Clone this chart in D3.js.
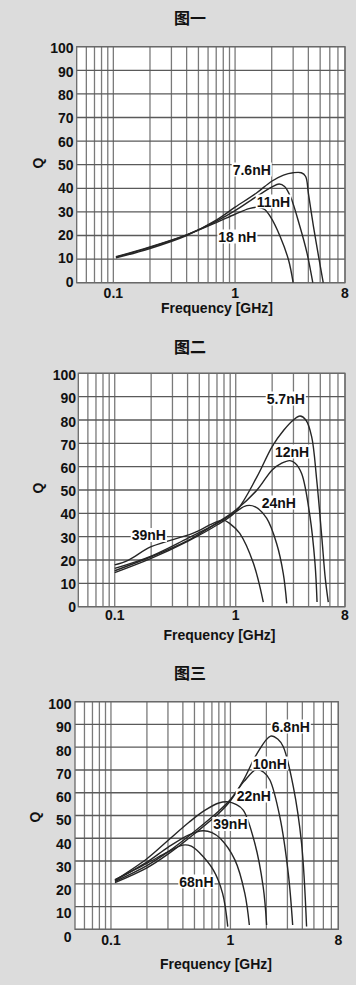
<!DOCTYPE html>
<html><head><meta charset="utf-8">
<script src="https://cdn.jsdelivr.net/npm/d3@7/dist/d3.min.js"></script>
<style>
html,body{margin:0;padding:0;background:#dcdcdc;}
svg{display:block;}
</style></head>
<body>
<svg id="c" width="356" height="985"></svg>
<script>
// ---------- data ----------
const titles = ["图一", "图二", "图三"];
const yTicks = [0, 10, 20, 30, 40, 50, 60, 70, 80, 90, 100];
const xTickLabels = [0.1, 1, 8];
const xGridValues = [0.06, 0.07, 0.08, 0.09, 0.1, 0.2, 0.3, 0.4, 0.5, 0.6, 0.7, 0.8, 0.9, 1, 2, 3, 4, 5, 6, 7, 8];
const xLabelText = "Frequency [GHz]";
const yLabelText = "Q";

// 图一
const p1Names = ["7.6nH", "11nH", "18 nH"];
const p1_7_6nH = [[0.105,10.5],[0.2,14.5],[0.4,20],[0.7,26.5],[1,32],[1.5,38],[2,43],[2.5,45.6],[3,46.6],[3.5,46.6],[3.8,45],[4.0,38],[4.4,24],[4.8,12.5],[5.3,0]];
const p1_11nH  = [[0.105,10.8],[0.2,15],[0.4,20.3],[0.7,26],[1,30.5],[1.5,36.5],[2,40.5],[2.3,41.8],[2.55,40.8],[2.85,36.5],[3.4,24],[3.9,12.5],[4.35,0]];
const p1_18nH  = [[0.105,11],[0.2,15.2],[0.4,20.3],[0.7,25.5],[1,29],[1.3,31.4],[1.55,32],[1.75,31],[1.95,28],[2.35,19.5],[2.75,9.6],[3.0,0]];

// 图二
const p2Names = ["5.7nH", "12nH", "24nH", "39nH"];
const p2_5_7nH = [[0.1,14.6],[0.2,20.7],[0.4,28],[0.7,35],[1,40.7],[1.5,55.7],[2,68.6],[2.5,75.7],[3,80],[3.4,81.7],[3.8,80],[4.24,72.9],[4.67,54.3],[5.14,30],[5.5,12],[5.82,2]];
const p2_12nH  = [[0.1,15.4],[0.2,21.4],[0.4,28.3],[0.8,37.9],[1,41.4],[1.5,50],[2,58.6],[2.4,61.5],[2.8,62.6],[3.1,61.5],[3.51,57],[4.11,38.6],[4.52,18.6],[4.7,2]];
const p2_24nH  = [[0.1,16.4],[0.2,21.7],[0.4,29.3],[0.7,35.7],[1,40.7],[1.23,43.3],[1.45,42.8],[1.8,37.9],[2.18,27],[2.47,14.3],[2.64,1.4]];
const p2_39nH  = [[0.1,17.9],[0.13,20],[0.2,25.7],[0.44,31.4],[0.65,35.7],[0.79,37.1],[0.9,35.5],[1.08,31.4],[1.4,18.6],[1.69,2]];

// 图三
const p3Names = ["6.8nH", "10nH", "22nH", "39nH", "68nH"];
const p3_6_8nH = [[0.108,20.5],[0.2,27],[0.3,33],[0.5,42],[0.8,51],[1,56.5],[1.3,66],[1.66,77],[2.17,84.9],[2.5,83.5],[2.77,80.2],[3.36,62.7],[3.94,37.8],[4.34,1.2]];
const p3_10nH  = [[0.108,21],[0.2,28],[0.3,34],[0.5,43],[0.8,52],[1,57],[1.3,65],[1.66,70.3],[1.9,69],[2.14,65.6],[2.59,49.5],[3.05,24.6],[3.32,1.9]];
const p3_22nH  = [[0.108,21.5],[0.2,31],[0.3,39],[0.45,47],[0.6,52],[0.8,55.5],[0.96,56],[1.1,55],[1.28,52.4],[1.6,37.8],[1.88,18.7],[2.01,1.9]];
const p3_39nH  = [[0.108,21.5],[0.2,29.5],[0.3,36],[0.45,41.5],[0.59,43.3],[0.7,42.5],[0.82,40],[1.09,30.5],[1.32,15.8],[1.44,1.9]];
const p3_68nH  = [[0.108,21.8],[0.2,29],[0.3,34],[0.4,37],[0.47,36.5],[0.556,33.4],[0.72,26],[0.86,15.8],[0.95,1.2]];

// ---------- layout ----------
const panels = [
  {title: titles[0], tY: 24, L: 76.7, R: 345, T: 46.7, B: 282.7, lblTop: 48.3, lblBot: 281.7, lblX: 73.5,
   xLblY: 297.5, axTitleY: 313, axTitleX: 217, qX: 38, qY: 163,
   series: [p1_7_6nH, p1_11nH, p1_18nH], names: p1Names,
   labelPos: [[232.7,174.5],[256.7,206.5],[218.3,241.5]]},
  {title: titles[1], tY: 352.5, L: 78.3, R: 345, T: 373.3, B: 606.7, lblTop: 375, lblBot: 607.3, lblX: 76,
   xLblY: 620, axTitleY: 640, axTitleX: 219.5, qX: 38, qY: 488,
   series: [p2_5_7nH, p2_12nH, p2_24nH, p2_39nH], names: p2Names,
   labelPos: [[266.7,403.5],[275,456.5],[261.7,507.5],[131.7,540]]},
  {title: titles[2], tY: 679, L: 75, R: 338.3, T: 701.7, B: 929.3, lblTop: 704, lblBot: 936.7, lblX: 71.5,
   xLblY: 945, axTitleY: 969, axTitleX: 216, qX: 35, qY: 817,
   series: [p3_6_8nH, p3_10nH, p3_22nH, p3_39nH, p3_68nH], names: p3Names,
   labelPos: [[271.7,731.5],[252.7,768.5],[236.7,800.5],[213.3,829],[179.3,886.5]]}
];

const svg = d3.select("#c");
svg.append("rect").attr("width",356).attr("height",985).attr("fill","#dcdcdc");
const font = "'Liberation Sans', Arial, Helvetica, sans-serif";

panels.forEach(p => {
  const g = svg.append("g");
  const x = d3.scaleLog().domain([0.05, 8]).range([p.L, p.R]);
  const y = d3.scaleLinear().domain([0, 100]).range([p.B, p.T]);
  const yl = d3.scaleLinear().domain([0, 100]).range([p.lblBot, p.lblTop]);

  // title
  g.append("text").attr("x", 190).attr("y", p.tY).attr("text-anchor","middle")
    .attr("font-family","'Noto Sans CJK SC', sans-serif").attr("font-size", 16).attr("font-weight", 700)
    .attr("fill","#111").text(p.title);

  // plot area
  g.append("rect").attr("x", p.L).attr("y", p.T).attr("width", p.R - p.L).attr("height", p.B - p.T)
    .attr("fill", "#fff");

  // vertical grid
  g.append("g").selectAll("line").data(xGridValues).join("line")
    .attr("x1", d => x(d)).attr("x2", d => x(d)).attr("y1", p.T).attr("y2", p.B)
    .attr("stroke", "#7a7a7a").attr("stroke-width", 1.3);
  // horizontal grid
  g.append("g").selectAll("line").data(yTicks).join("line")
    .attr("x1", p.L).attr("x2", p.R).attr("y1", d => y(d)).attr("y2", d => y(d))
    .attr("stroke", "#5a5a5a").attr("stroke-width", 1.3);
  // border
  g.append("rect").attr("x", p.L).attr("y", p.T).attr("width", p.R - p.L).attr("height", p.B - p.T)
    .attr("fill", "none").attr("stroke", "#6a6a6a").attr("stroke-width", 1.3);

  // y tick labels
  g.append("g").selectAll("text").data(yTicks).join("text")
    .attr("x", p.lblX).attr("y", d => yl(d)).attr("dy", "0.36em").attr("text-anchor", "end")
    .attr("font-family", font).attr("font-size", 14).attr("font-weight", 700).attr("fill", "#111")
    .text(d => d);
  // x tick labels
  g.append("g").selectAll("text").data(xTickLabels).join("text")
    .attr("x", d => x(d)).attr("y", p.xLblY).attr("text-anchor", "middle")
    .attr("font-family", font).attr("font-size", 14).attr("font-weight", 700).attr("fill", "#111")
    .text(d => d);
  // axis titles
  g.append("text").attr("x", p.axTitleX).attr("y", p.axTitleY).attr("text-anchor", "middle")
    .attr("font-family", font).attr("font-size", 14).attr("font-weight", 700).attr("fill", "#111")
    .text(xLabelText);
  g.append("text").attr("transform", `translate(${p.qX},${p.qY}) rotate(-90)`).attr("dy","0.36em")
    .attr("text-anchor", "middle")
    .attr("font-family", font).attr("font-size", 14).attr("font-weight", 700).attr("fill", "#111")
    .text(yLabelText);

  // curves
  const line = d3.line().x(d => x(d[0])).y(d => y(d[1])).curve(d3.curveCatmullRom.alpha(0.5));
  g.append("g").selectAll("path").data(p.series).join("path")
    .attr("d", line).attr("fill", "none").attr("stroke", "#262626").attr("stroke-width", 1.4);

  // curve labels with white backing
  p.names.forEach((n, i) => {
    const [lx, ly] = p.labelPos[i];
    const t = g.append("text").attr("x", lx).attr("y", ly)
      .attr("font-family", font).attr("font-size", 14).attr("font-weight", 700).attr("fill", "#111")
      .text(n);
    const bb = t.node().getBBox();
    g.insert("rect", () => t.node()).attr("x", bb.x - 1).attr("y", bb.y + 1).attr("width", bb.width + 2)
      .attr("height", bb.height - 2).attr("fill", "#fff");
  });
});
</script>
</body></html>
